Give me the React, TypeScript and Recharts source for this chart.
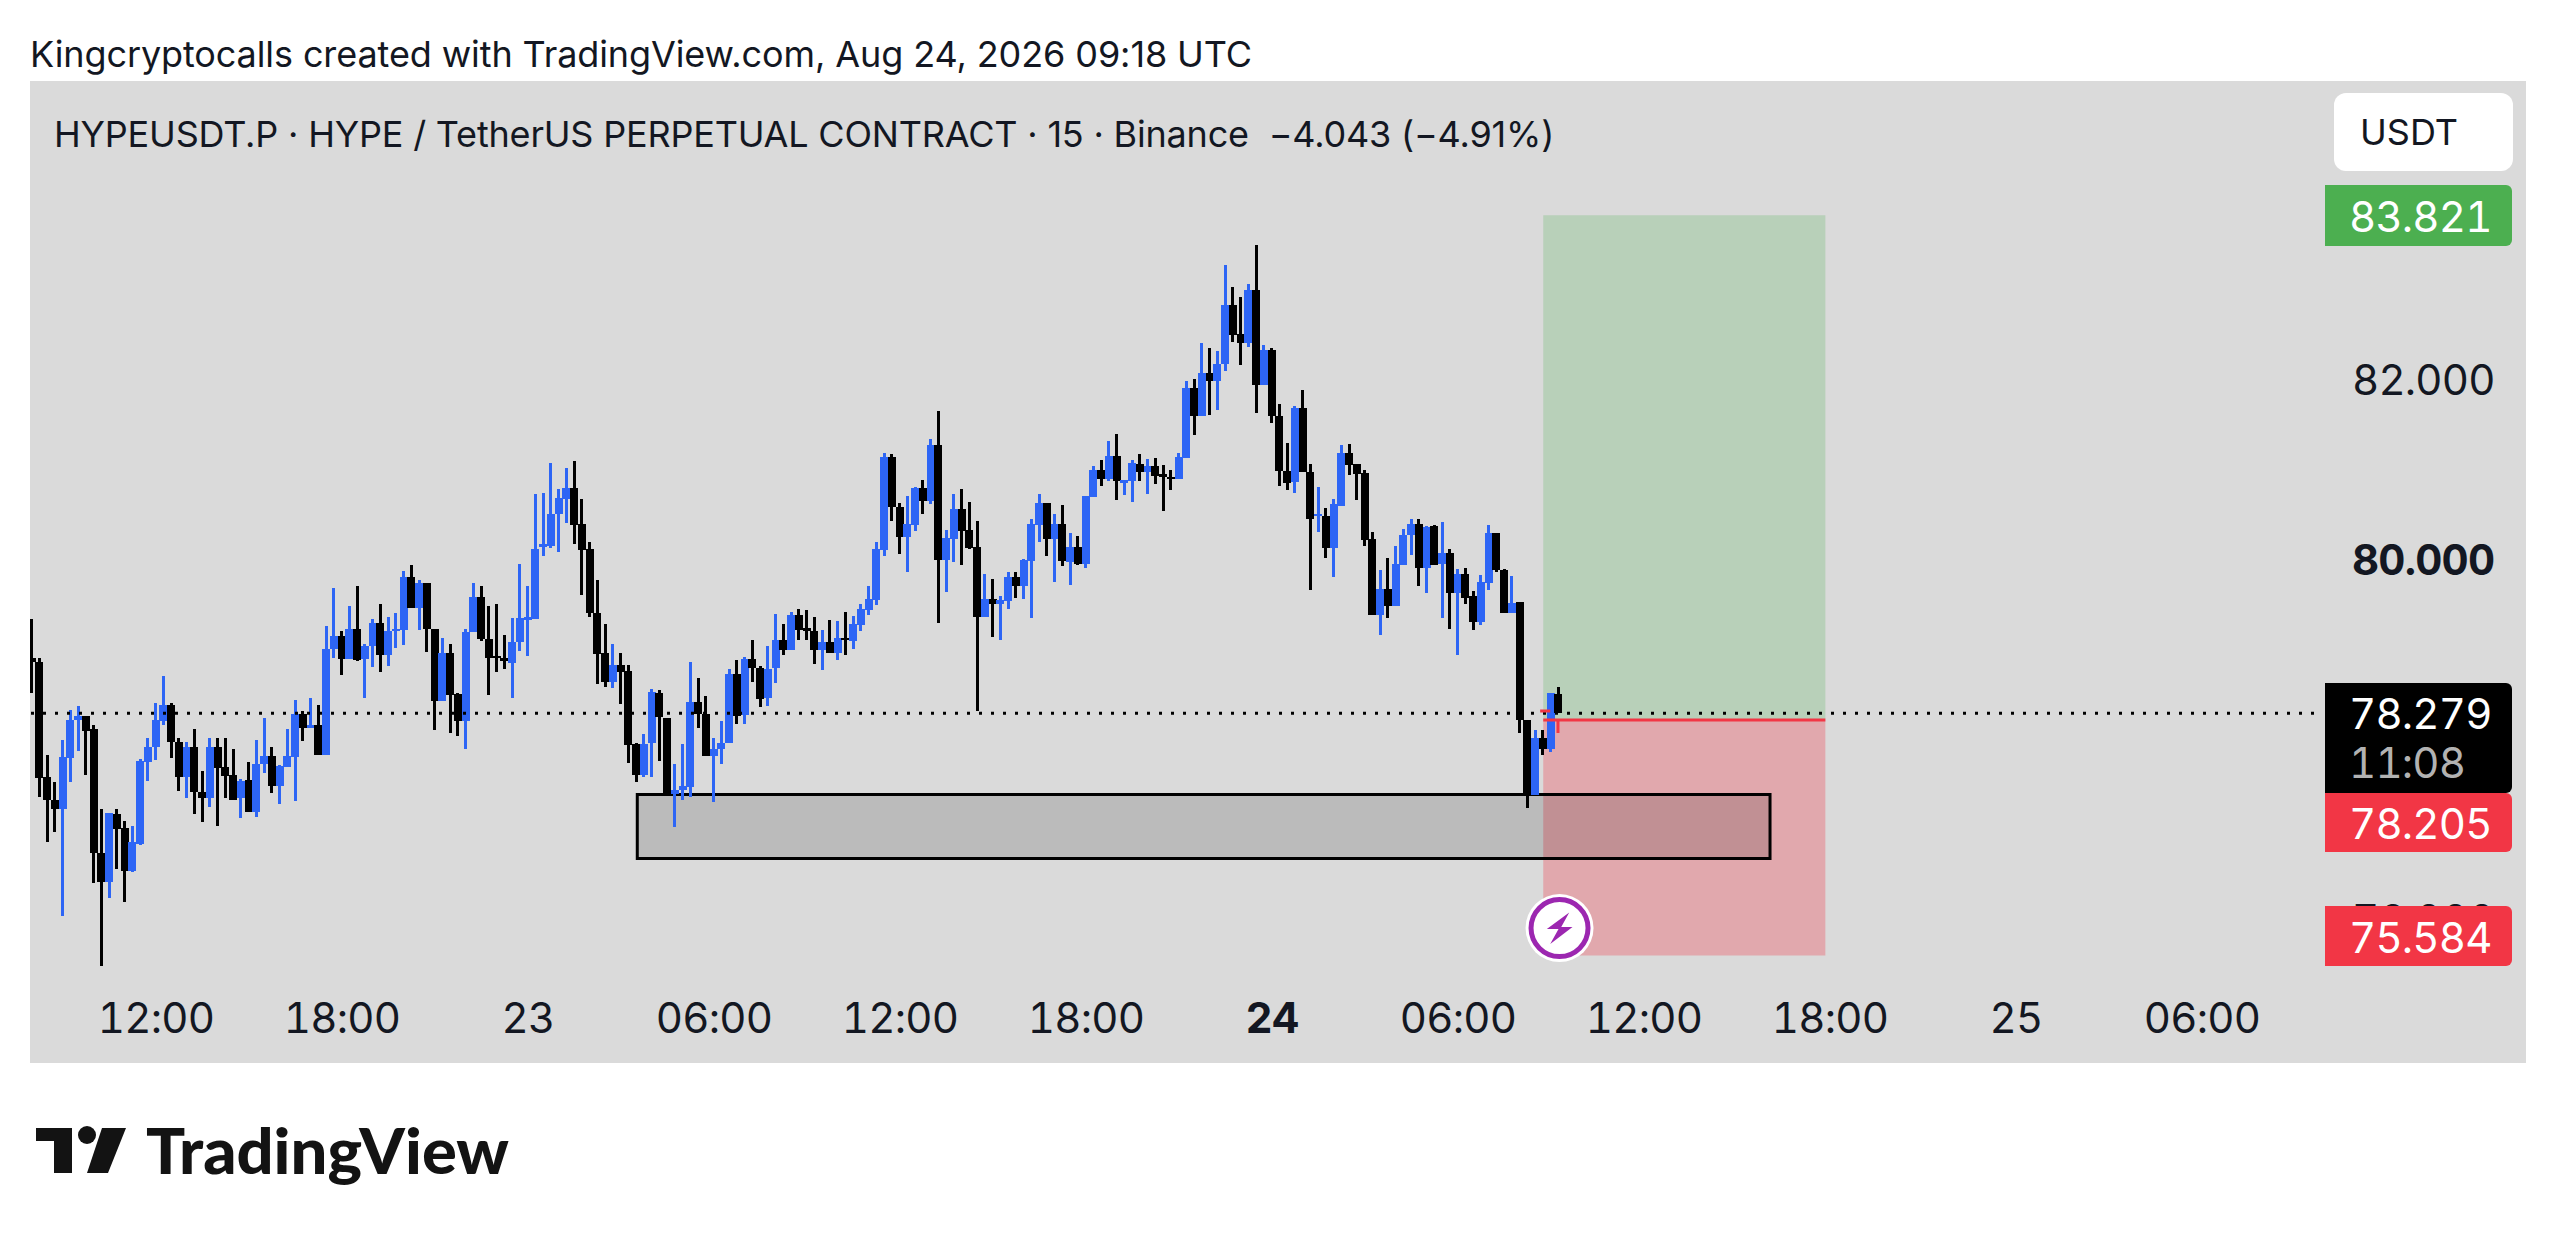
import React from "react";
import {
  ComposedChart,
  Bar,
  XAxis,
  YAxis,
  ReferenceArea,
  ReferenceLine,
  ReferenceDot,
} from "recharts";

const opens = [
  78.90,78.85,77.57,77.32,77.21,77.78,78.20,78.25,78.10,76.72,
  76.40,77.16,77.00,76.52,76.83,77.74,77.90,78.19,78.37,77.96,
  77.57,77.90,77.40,77.34,77.90,77.68,77.59,77.34,77.54,77.18,
  77.72,77.80,77.47,77.68,77.79,78.27,78.12,78.15,77.81,78.99,
  79.14,78.88,79.22,78.88,79.03,79.28,78.93,79.19,79.21,79.80,
  79.45,79.73,79.22,78.42,78.95,78.49,78.19,79.18,79.57,79.11,
  78.92,78.89,78.84,79.07,79.33,79.33,80.13,80.14,80.50,80.66,
  80.79,80.38,80.11,79.40,78.95,78.63,78.82,78.75,77.94,77.59,
  77.95,78.51,78.23,77.38,77.43,77.46,78.41,78.27,77.80,77.88,
  77.95,78.72,78.26,78.88,78.78,78.45,78.78,79.09,78.98,79.37,
  79.23,79.20,78.98,79.07,78.95,79.12,79.08,79.26,79.43,79.54,
  80.10,81.13,80.57,80.24,80.37,80.79,80.64,81.26,79.99,80.22,
  80.55,80.32,80.13,79.35,79.55,79.50,79.53,79.80,79.70,79.97,
  80.37,80.62,80.22,80.38,79.96,80.13,79.94,80.69,80.99,80.89,
  81.14,80.86,80.86,81.05,80.96,81.03,80.94,80.91,80.89,81.12,
  81.90,81.59,82.06,81.98,82.17,82.82,82.50,82.40,82.99,81.93,
  82.32,81.59,80.97,80.85,81.68,80.96,80.47,80.47,80.12,80.59,
  81.18,81.05,80.95,80.22,79.37,79.66,79.47,79.93,80.26,80.39,
  79.90,80.36,79.94,80.06,79.62,79.83,79.58,79.30,79.73,80.29,
  79.87,79.39,79.52,78.20,77.37,78.01,77.88,78.49,
];
const closes = [
  78.85,77.56,77.32,77.21,77.79,78.21,78.25,78.08,76.72,76.40,
  77.17,76.99,76.52,76.85,77.75,77.90,78.20,78.37,77.96,77.57,
  77.90,77.40,77.34,77.90,77.67,77.58,77.32,77.53,77.18,77.72,
  77.80,77.47,77.69,77.80,78.27,78.12,78.15,77.81,78.99,79.14,
  78.88,79.22,78.87,79.03,79.28,78.93,79.19,79.22,79.80,79.45,
  79.73,79.22,78.42,78.95,78.48,78.19,79.18,79.57,79.11,78.90,
  78.89,78.87,79.07,79.34,79.35,80.11,80.16,80.50,80.67,80.79,
  80.37,80.10,79.40,78.94,78.63,78.82,78.74,77.93,77.59,77.94,
  78.52,78.24,77.38,77.43,77.47,78.41,78.27,77.80,77.88,77.95,
  78.72,78.25,78.88,78.78,78.44,78.77,79.09,78.98,79.37,79.21,
  79.20,78.98,79.07,78.95,79.12,79.09,79.27,79.44,79.55,80.11,
  81.13,80.57,80.24,80.38,80.79,80.64,81.26,79.99,80.23,80.55,
  80.31,80.12,79.35,79.55,79.50,79.54,79.80,79.70,79.99,80.38,
  80.62,80.22,80.38,79.97,80.13,79.94,80.70,80.99,80.89,81.14,
  80.86,80.87,81.06,80.96,81.03,80.92,80.91,80.89,81.13,81.90,
  81.59,82.06,81.98,82.17,82.82,82.49,82.40,82.99,81.93,82.32,
  81.59,80.97,80.84,81.68,80.96,80.44,80.50,80.12,80.61,81.18,
  81.04,80.94,80.21,79.37,79.66,79.47,79.94,80.26,80.39,79.90,
  80.35,79.93,80.06,79.62,79.83,79.56,79.30,79.74,80.29,79.87,
  79.39,79.51,78.20,77.37,78.00,77.88,78.50,78.279,
];
const highs = [
  79.33,78.89,77.81,77.51,77.98,78.32,78.36,78.25,78.15,77.21,
  77.17,77.21,77.08,77.03,77.77,78.00,78.39,78.69,78.39,78.01,
  77.96,78.10,77.64,78.01,78.01,78.01,77.88,77.55,77.74,77.98,
  78.23,77.90,77.70,78.10,78.43,78.30,78.45,78.37,79.25,79.67,
  79.20,79.47,79.69,79.05,79.33,79.50,79.35,79.39,79.86,79.93,
  79.76,79.73,79.22,79.12,79.05,78.50,79.22,79.73,79.70,79.47,
  79.49,79.15,79.34,79.94,79.70,80.72,80.73,81.06,80.77,81.01,
  81.09,80.66,80.18,79.76,79.27,79.05,78.95,78.82,77.95,78.05,
  78.55,78.54,78.23,77.72,77.94,78.85,78.67,78.47,78.00,78.19,
  78.77,78.87,78.91,79.10,78.80,79.03,79.38,79.27,79.41,79.44,
  79.43,79.35,79.21,79.32,79.31,79.41,79.36,79.50,79.70,80.19,
  81.18,81.16,80.62,80.70,80.80,80.88,81.33,81.64,80.32,80.72,
  80.78,80.63,80.42,79.83,79.77,79.58,79.85,79.85,80.00,80.44,
  80.72,80.62,80.50,80.60,80.29,80.25,80.70,81.03,81.10,81.31,
  81.39,80.87,81.10,81.16,81.11,81.12,81.04,80.99,81.17,81.98,
  82.00,82.40,82.34,82.31,83.27,83.02,82.91,83.06,83.49,82.38,
  82.34,81.72,81.29,81.70,81.88,81.05,80.80,80.56,80.66,81.26,
  81.28,81.05,80.99,80.30,79.87,80.01,80.14,80.33,80.44,80.44,
  80.36,80.37,80.41,80.11,79.88,79.90,79.64,79.82,80.37,80.29,
  79.89,79.81,79.52,78.20,78.09,78.09,78.51,78.57,
];
const lows = [
  78.50,77.35,76.85,76.96,76.03,77.52,77.86,77.59,76.39,75.47,
  76.22,76.55,76.18,76.51,76.81,77.53,77.76,78.15,77.78,77.41,
  77.34,77.16,77.07,77.24,77.03,77.34,77.32,77.12,77.18,77.13,
  77.61,77.39,77.27,77.68,77.30,77.97,78.12,77.81,77.81,78.90,
  78.70,78.88,78.86,78.45,78.79,78.74,78.80,79.01,79.04,79.45,
  79.21,78.96,78.09,78.42,78.06,78.03,77.88,79.18,79.08,78.48,
  78.74,78.77,78.45,78.97,78.92,79.33,80.03,80.12,80.07,80.40,
  80.16,79.60,79.35,78.61,78.57,78.56,78.38,77.73,77.51,77.57,
  77.57,77.75,77.37,77.01,77.32,77.35,78.12,77.80,77.29,77.72,
  77.95,78.16,78.16,78.63,78.35,78.36,78.62,78.93,78.98,79.09,
  79.10,78.83,78.76,78.95,78.87,78.93,78.99,79.20,79.37,79.48,
  80.03,80.42,80.05,79.85,80.31,80.50,80.61,79.28,79.63,79.96,
  79.93,80.11,78.31,79.35,79.13,79.09,79.44,79.56,79.55,79.34,
  80.18,80.03,79.74,79.92,79.71,79.93,79.90,80.69,80.81,80.86,
  80.65,80.71,80.63,80.86,80.72,80.83,80.53,80.76,80.89,81.12,
  81.37,81.59,81.60,81.65,82.09,82.41,82.15,82.35,81.62,81.93,
  81.51,80.81,80.76,80.73,80.96,79.65,80.30,80.01,79.79,80.58,
  80.93,80.65,80.14,79.37,79.15,79.34,79.47,79.93,80.04,79.69,
  79.62,79.93,79.34,79.22,78.93,79.50,79.21,79.26,79.65,79.85,
  79.39,79.39,78.06,77.23,77.37,77.82,77.85,78.279,
];

const xTickBars = [16, 40, 64, 88, 112, 136, 160, 184, 208, 232, 256, 280];
const xTickLabels = ["12:00", "18:00", "23", "06:00", "12:00", "18:00", "24", "06:00", "12:00", "18:00", "25", "06:00"];
const boldXLabels = ["24"];
const priceTicks = [82, 80, 76];
const boldPrices = [80];

const lastPrice = 78.279;
const targetPrice = 83.821;
const entryPrice = 78.205;
const stopPrice = 75.584;
const positionBars = [195, 231.4];
const zoneBars = [78.1, 224.26];
const zonePrices = [76.664, 77.376];

const title = "Kingcryptocalls created with TradingView.com, Aug 24, 2026 09:18 UTC";
const legend = "HYPEUSDT.P · HYPE / TetherUS PERPETUAL CONTRACT · 15 · Binance  −4.043 (−4.91%)";

const candles = opens.map((open, i) => ({
  i,
  open,
  close: closes[i],
  high: highs[i],
  low: lows[i],
}));

const UP = "#2d65f5";
const DOWN = "#000000";
const FONT = "Inter, 'Noto Sans', sans-serif";

function Candle(props: any) {
  const { x, y, width, height, payload } = props;
  const perUnit = height / (payload.high - payload.low);
  const color = payload.close >= payload.open ? UP : DOWN;
  const top = y + (payload.high - Math.max(payload.open, payload.close)) * perUnit;
  const bodyH = Math.max(2.5, Math.abs(payload.open - payload.close) * perUnit);
  const cx = x + width / 2;
  return (
    <g shapeRendering="crispEdges">
      <rect x={cx - 1.5} y={y} width={3} height={Math.max(height, 1)} fill={color} />
      <rect x={cx - 4} y={top} width={8} height={bodyH} fill={color} />
    </g>
  );
}

function XTick(props: any) {
  const { x, y, index } = props;
  const label = xTickLabels[index];
  return (
    <text
      x={x}
      y={y + 24}
      textAnchor="middle"
      dominantBaseline="central"
      fontFamily={FONT}
      fontSize={42}
      letterSpacing={-0.7}
      fontWeight={boldXLabels.includes(label) ? 700 : 400}
      fill="#131722"
      style={{ fontVariantNumeric: "tabular-nums" }}
    >
      {label}
    </text>
  );
}

function YTick(props: any) {
  const { x, y, payload } = props;
  return (
    <text
      x={x + 30}
      y={y + 1}
      dominantBaseline="central"
      fontFamily={FONT}
      fontSize={42}
      letterSpacing={-0.8}
      fontWeight={boldPrices.includes(payload.value) ? 700 : 400}
      fill="#131722"
      style={{ fontVariantNumeric: "tabular-nums" }}
    >
      {payload.value.toFixed(3)}
    </text>
  );
}

function Bolt(props: any) {
  const { cx, cy } = props;
  return (
    <g>
      <circle cx={cx} cy={cy} r={34} fill="#ffffff" />
      <circle cx={cx} cy={cy} r={28.5} fill="#ffffff" stroke="#9c27b0" strokeWidth={5} />
      <polygon
        points={`${cx + 9.7},${cy - 15.7} ${cx - 12.7},${cy + 1} ${cx - 1},${cy + 1} ${cx - 9.3},${cy + 16} ${cx + 13},${cy - 1} ${cx + 1.7},${cy - 1}`}
        fill="#9c27b0"
      />
    </g>
  );
}

function PriceTag(props: { top: number; height: number; bg: string; text: string }) {
  const { top, height, bg, text } = props;
  return (
    <div
      style={{
        position: "absolute",
        left: 2325,
        width: 187,
        top,
        height,
        lineHeight: `${height + 3}px`,
        background: bg,
        color: "#ffffff",
        fontFamily: FONT,
        fontSize: 42,
        letterSpacing: -0.8,
        fontVariantNumeric: "tabular-nums",
        paddingLeft: 24,
        boxSizing: "border-box",
        borderRadius: "0 6px 6px 0",
      }}
    >
      {text}
    </div>
  );
}

export default function App() {
  return (
    <div style={{ position: "absolute", left: 0, top: 0, width: 2556, height: 1242, background: "#ffffff", overflow: "hidden" }}>
      <div style={{ position: "absolute", left: 30, top: 81, width: 2496, height: 982, background: "#dadada" }} />
      <div style={{ position: "absolute", left: 30, top: 28, fontFamily: FONT, fontSize: 36, letterSpacing: -0.1, lineHeight: "52px", color: "#131722", whiteSpace: "pre" }}>
        {title}
      </div>
      <div style={{ position: "absolute", left: 0, top: 0 }}>
        <ComposedChart
          width={2556}
          height={1242}
          data={candles}
          margin={{ top: 81, left: 30, right: 30, bottom: 180 }}
          barSize={8}
        >
          <XAxis
            dataKey="i"
            type="number"
            domain={[-0.258, 294.45]}
            allowDataOverflow
            ticks={xTickBars}
            interval={0}
            height={77}
            axisLine={false}
            tickLine={false}
            tick={<XTick />}
          />
          <YAxis
            type="number"
            orientation="right"
            domain={[75.257, 85.313]}
            allowDataOverflow
            ticks={priceTicks}
            interval={0}
            width={212}
            axisLine={false}
            tickLine={false}
            tick={<YTick />}
          />
          <ReferenceArea x1={positionBars[0]} x2={positionBars[1]} y1={entryPrice} y2={targetPrice} fill="#4caf50" fillOpacity={0.24} stroke="none" />
          <ReferenceArea x1={positionBars[0]} x2={positionBars[1]} y1={stopPrice} y2={entryPrice} fill="#f23645" fillOpacity={0.3} stroke="none" />
          <ReferenceArea x1={zoneBars[0]} x2={zoneBars[1]} y1={zonePrices[0]} y2={zonePrices[1]} fill="#000000" fillOpacity={0.14} stroke="#000000" strokeWidth={3} />
          <ReferenceLine y={lastPrice} stroke="#000000" strokeWidth={3} strokeDasharray="3 9" />
          <ReferenceLine segment={[{ x: positionBars[0], y: entryPrice }, { x: positionBars[1], y: entryPrice }]} stroke="#f23645" strokeWidth={3} />
          <ReferenceLine segment={[{ x: 196.9, y: entryPrice }, { x: 196.9, y: 78.06 }]} stroke="#f23645" strokeWidth={3} />
          <ReferenceLine segment={[{ x: 194.6, y: 78.305 }, { x: 195.9, y: 78.305 }]} stroke="#f23645" strokeWidth={3} />
          <Bar dataKey={(d: any) => [d.low, d.high]} isAnimationActive={false} shape={<Candle />} />
          <ReferenceDot x={197.1} y={75.89} r={34} shape={<Bolt />} />
        </ComposedChart>
      </div>
      <div style={{ position: "absolute", left: 54, top: 108, fontFamily: FONT, fontSize: 36, letterSpacing: -0.19, lineHeight: "52px", color: "#131722", whiteSpace: "pre" }}>
        {legend}
      </div>
      <div
        style={{
          position: "absolute",
          left: 2334,
          top: 93,
          width: 179,
          height: 78,
          lineHeight: "78px",
          background: "#ffffff",
          borderRadius: 12,
          paddingLeft: 26,
          boxSizing: "border-box",
          fontFamily: FONT,
          fontSize: 36,
          color: "#131722",
        }}
      >
        USDT
      </div>
      <PriceTag top={185} height={61} bg="#4caf50" text={targetPrice.toFixed(3)} />
      <PriceTag top={683} height={110} bg="#000000" text="" />
      <div style={{ position: "absolute", left: 2349, top: 686, fontFamily: FONT, fontSize: 42, letterSpacing: -0.8, lineHeight: "56px", fontVariantNumeric: "tabular-nums", color: "#ffffff" }}>{lastPrice.toFixed(3)}</div>
      <div style={{ position: "absolute", left: 2349, top: 735, fontFamily: FONT, fontSize: 42, letterSpacing: -0.8, lineHeight: "56px", fontVariantNumeric: "tabular-nums", color: "#b2b2b2" }}>11:08</div>
      <PriceTag top={793} height={59} bg="#f23645" text={entryPrice.toFixed(3)} />
      <PriceTag top={906} height={60} bg="#f23645" text={stopPrice.toFixed(3)} />
      <svg style={{ position: "absolute", left: 0, top: 1100 }} width={600} height={120}>
        <path d="M36 28 H72 V73 H54 V41 H36 Z" fill="#131313" />
        <circle cx={87} cy={35} r={9} fill="#131313" />
        <path d="M102 28 H126 L108 73 H87 Z" fill="#131313" />
        <text x={146} y={74} fontFamily="Lato, Inter, sans-serif" fontWeight={900} fontSize={62} fill="#131313" textLength={363} lengthAdjust="spacingAndGlyphs">
          TradingView
        </text>
      </svg>
    </div>
  );
}
